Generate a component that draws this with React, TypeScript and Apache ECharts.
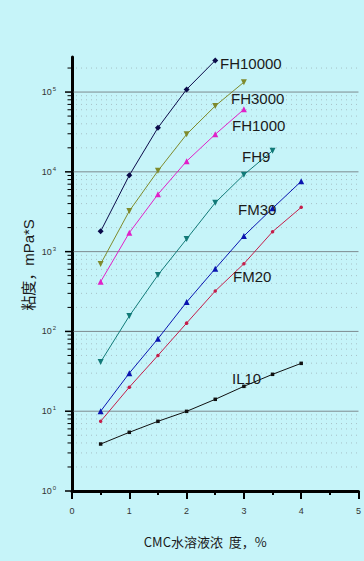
import React, { useEffect, useRef } from "react";
import * as echarts from "echarts";

const concentration = [0.5, 1, 1.5, 2, 2.5, 3, 3.5, 4];
const fh10000 = [1795, 9040, 35700, 108000, 249000];
const fh3000 = [700, 3230, 10300, 29500, 67000, 133000];
const fh1000 = [420, 1725, 5230, 13600, 29500, 60700];
const fh9 = [41.4, 156, 509, 1440, 4100, 9200, 18400];
const fm30 = [10, 30, 81, 233, 611, 1570, 3490, 7600];
const fm20 = [7.47, 20, 50, 127, 321, 705, 1777, 3590];
const il10 = [3.88, 5.44, 7.47, 9.96, 14.1, 20.5, 29, 39.8];

const seriesNames = ["FH10000", "FH3000", "FH1000", "FH9", "FM30", "FM20", "IL10"];
const xTicks = [0, 1, 2, 3, 4, 5];
const yMin = 1;
const yMax = 275000;

const BG = "#c6f4f9";

function pairs(vals: number[]) {
  return vals.map((v, i) => [concentration[i], v]);
}

function tickItems() {
  const items: any[] = [];
  for (let n = 0; n <= 5; n++) {
    const base = Math.pow(10, n);
    items.push([0, base, 0]);
    for (let k = 2; k <= 9; k++) {
      const v = k * base;
      if (v <= yMax) items.push([0, v, 1]);
    }
  }
  return items;
}

export default function App() {
  const ref = useRef<HTMLDivElement>(null);
  useEffect(() => {
    if (!ref.current) return;
    const chart = echarts.init(ref.current, undefined, { renderer: "svg" });
    const mk = (name: string, data: number[], color: string, symbol: string, size: number, rotate = 0) => ({
      name,
      type: "line",
      data: pairs(data),
      symbol,
      symbolSize: size,
      symbolRotate: rotate,
      lineStyle: { color, width: 1 },
      itemStyle: { color },
      z: 5,
    });
    const labelStyle = (text: string, x: number, y: number) => ({
      type: "text",
      left: x,
      top: y - 8,
      style: {
        text,
        fill: "#1a1a1a",
        font: "15px 'Liberation Sans', Arial, sans-serif",
      },
      z: 10,
    });
    chart.setOption({
      animation: false,
      backgroundColor: BG,
      grid: { left: 72, right: 1, top: 57, bottom: 70 },
      xAxis: {
        type: "value",
        min: 0,
        max: 5,
        interval: 1,
        axisLine: { show: true, lineStyle: { color: "#000", width: 3 } },
        axisTick: { show: true, length: 8, lineStyle: { color: "#000", width: 2 } },
        minorTick: { show: true, splitNumber: 2, length: 4, lineStyle: { color: "#000", width: 2 } },
        splitLine: { show: false },
        axisLabel: {
          margin: 15,
          fontSize: 9,
          color: "#333",
          fontFamily: "'Liberation Sans', Arial, sans-serif",
          formatter: (v: number) => (xTicks.includes(v) ? String(v) : ""),
        },
        name: "CMC水溶液浓  度，%",
        nameLocation: "middle",
        nameGap: 44,
        nameMoveOverlap: false,
        nameTextStyle: {
          fontSize: 13,
          color: "#1a1a1a",
          fontFamily: "'Noto Sans CJK SC', sans-serif",
          padding: [0, 20, 0, 0],
        },
      },
      yAxis: {
        type: "log",
        logBase: 10,
        min: yMin,
        max: yMax,
        axisLine: { show: true, lineStyle: { color: "#000", width: 3 } },
        axisTick: { show: false },
        splitLine: { show: false },
        axisLabel: {
          margin: 16,
          color: "#333",
          formatter: (v: number) => {
            const l = Math.log10(v);
            const e = Math.round(l);
            if (Math.abs(l - e) > 1e-6) return "";
            return `{b|10}{s|${e}}`;
          },
          rich: {
            b: { fontSize: 9, fontFamily: "'Liberation Sans', Arial, sans-serif", color: "#333", lineHeight: 12 },
            s: { fontSize: 6, fontFamily: "'Liberation Sans', Arial, sans-serif", color: "#333", padding: [0, 0, 6, 1] },
          },
        },
        name: "粘度，mPa*S",
        nameLocation: "middle",
        nameGap: 36,
        nameMoveOverlap: false,
        nameTextStyle: {
          fontSize: 15,
          color: "#1a1a1a",
          fontFamily: "'Liberation Sans', 'Noto Sans CJK SC', sans-serif",
          padding: [0, 0, 0, 18],
        },
      },
      graphic: [
        labelStyle("FH10000", 220, 64),
        labelStyle("FH3000", 231, 99),
        labelStyle("FH1000", 232, 126),
        labelStyle("FH9", 242, 157),
        labelStyle("FM30", 238, 210),
        labelStyle("FM20", 233, 277),
        labelStyle("IL10", 232, 379),
      ],
      series: [
        {
          type: "custom",
          clip: false,
          silent: true,
          z: 1,
          data: tickItems(),
          encode: { x: 0, y: 1 },
          renderItem: (params: any, api: any) => {
            const v = api.value(1);
            const kind = api.value(2);
            const p = api.coord([0, v]);
            const pe = api.coord([5, v]);
            const children: any[] = [];
            if (kind === 0) {
              children.push({
                type: "line",
                shape: { x1: p[0] - 7, y1: p[1], x2: p[0], y2: p[1] },
                style: { stroke: "#000", lineWidth: 1.5 },
              });
              if (v > 1) {
                children.push({
                  type: "line",
                  shape: { x1: p[0] + 1.5, y1: p[1], x2: pe[0], y2: p[1] },
                  style: { stroke: "#7d8a8e", lineWidth: 1 },
                });
              }
            } else {
              children.push({
                type: "line",
                shape: { x1: p[0] - 4.5, y1: p[1], x2: p[0], y2: p[1] },
                style: { stroke: "#000", lineWidth: 1 },
              });
              children.push({
                type: "line",
                shape: { x1: p[0] + 4, y1: p[1], x2: pe[0], y2: p[1] },
                style: { stroke: "#a6c0c6", lineWidth: 1, lineDash: [1, 4] },
              });
            }
            return { type: "group", children };
          },
        },
        mk(seriesNames[0], fh10000, "#0b0b4a", "diamond", 6),
        mk(seriesNames[1], fh3000, "#7f8a2c", "triangle", 6, 180),
        mk(seriesNames[2], fh1000, "#e020c8", "triangle", 6),
        mk(seriesNames[3], fh9, "#127a78", "triangle", 6, 180),
        mk(seriesNames[4], fm30, "#0a14b0", "triangle", 6),
        mk(seriesNames[5], fm20, "#c41e4a", "circle", 3.5),
        mk(seriesNames[6], il10, "#111111", "rect", 3.5),
      ],
    });
    return () => chart.dispose();
  }, []);
  return (
    <div style={{ position: "fixed", left: 0, top: 0, width: 364, height: 561, background: BG }}>
      <div ref={ref} style={{ width: 364, height: 561 }} />
    </div>
  );
}
